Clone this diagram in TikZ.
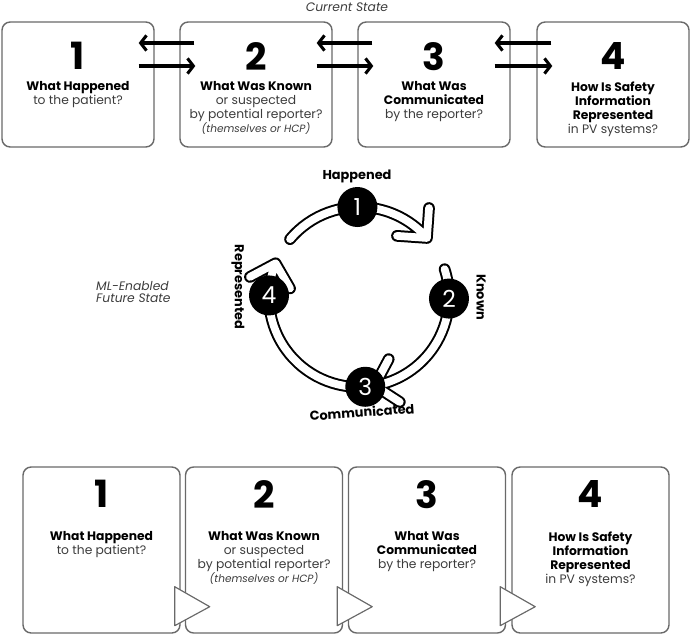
\documentclass[tikz,border=0pt]{standalone}
\usepackage{fontspec}
\setmainfont{Poppins}
\usepackage{tikz}
\usetikzlibrary{arrows.meta,positioning,calc}
\definecolor{boxgray}{RGB}{105,105,105}
\definecolor{txtgray}{RGB}{60,60,60}

\begin{document}
\begin{tikzpicture}[x=0.03cm,y=0.03cm,>={Straight Barb[length=5pt,width=13pt]},
  every node/.style={inner sep=0pt},
  topbox/.style={draw=boxgray,line width=1.2pt,rounded corners=7pt,minimum width=4.56cm,minimum height=3.75cm},
  botbox/.style={draw=boxgray,line width=1.2pt,rounded corners=7pt,minimum width=4.71cm,minimum height=4.98cm},
  bignum/.style={font=\fontsize{32}{32}\selectfont\bfseries,text depth=0pt},
  body/.style={anchor=north,align=center,text=txtgray,font=\fontsize{10.5}{11.9}\selectfont},
  flow/.style={->,line width=2.6pt},
  tri/.style={draw=boxgray,line width=1pt,fill=white,line join=round},
  cnum/.style={circle,fill=black,text=white,minimum size=1.2cm,font=\fontsize{20}{20}\selectfont},
  clab/.style={font=\fontsize{11}{11}\selectfont\bfseries},
  note/.style={text=txtgray,font=\fontsize{10.5}{10.5}\selectfont\itshape}]
\useasboundingbox (0,0) rectangle (690,-641);

% current state
\node[note] (cur) at (347,-7) {Current State};
\node[topbox] (b1) at (78,-84.5) {};
\node[topbox] (b2) at (256,-84.5) {};
\node[topbox] (b3) at (434,-84.5) {};
\node[topbox] (b4) at (613,-84.5) {};
\foreach \i in {1,2,3,4}
  \node[bignum] (b\i n) at ($(b\i.north)+(0,-35)$) {\i};
\node[body] (b1t) at ($(b1.north)+(0,-60)$) {\textbf{\color{black}What Happened}\\to the patient?};
\node[body] (b2t) at ($(b2.north)+(0,-60)$) {\textbf{\color{black}What Was Known}\\or suspected\\by potential reporter?\\{\fontsize{9}{11.9}\selectfont\itshape(themselves or HCP)}};
\node[body] (b3t) at ($(b3.north)+(0,-60)$) {\textbf{\color{black}What Was}\\\textbf{\color{black}Communicated}\\by the reporter?};
\node[body] (b4t) at ($(b4.north)+(0,-60)$) {\textbf{\color{black}How Is Safety}\\\textbf{\color{black}Information}\\\textbf{\color{black}Represented}\\in PV systems?};
\foreach \a/\b in {b1/b2,b2/b3,b3/b4}{
  \draw[flow] ($(\b.west)+(15,41.5)$) -- ($(\a.east)+(-16,41.5)$);
  \draw[flow] ($(\a.east)+(-16,18.5)$) -- ($(\b.west)+(16,18.5)$);
}

% ML-enabled cycle
\node[note,anchor=west,align=left] (fut) at (96,-292) {ML-Enabled\\Future State};
\coordinate (cc) at (359,-297);
\foreach \w/\c in {10pt/black,6.6pt/white}
  \draw[line width=\w,\c,line cap=round,line join=round]
    ($(cc)+(140:90)$) arc[start angle=140,end angle=41,radius=90]
    ($(cc)+(41:90)+(86:30)$) -- ($(cc)+(41:90)$) -- ($(cc)+(41:90)+(176:30)$)
    ($(cc)+(18:90)$) arc[start angle=18,end angle=-80,radius=90]
    ($(cc)+(-80:90)+(62:30)$) -- ($(cc)+(-80:90)$) -- ($(cc)+(-80:90)+(-33:30)$)
    ($(cc)+(-92:90)$) arc[start angle=-92,end angle=-202,radius=90]
    ($(cc)+(158:90)+(208:29)$) -- ($(cc)+(158:90)$) -- ($(cc)+(158:90)+(-60:29)$);
\node[cnum] (c1) at ($(cc)+(91:90)$) {1};
\node[cnum] (c2) at ($(cc)+(-1:90)$) {2};
\node[cnum] (c3) at ($(cc)+(-86:90)$) {3};
\node[cnum] (c4) at ($(cc)+(179:90)$) {4};
\node[clab] (l1) at (357,-176) {Happened};
\node[clab,rotate=-90] (l2) at (481,-297) {Known};
\node[clab,rotate=4] (l3) at (362,-412) {Communicated};
\node[clab,rotate=-90] (l4) at (238,-287) {Represented};

% future state
\node[botbox] (f1) at (101.5,-550) {};
\node[botbox] (f2) at (264,-550) {};
\node[botbox] (f3) at (427,-550) {};
\node[botbox] (f4) at (590.5,-550) {};
\foreach \i in {1,2,3}
  \draw[tri] ($(f\i.south east)+(-6,47)$) -- ($(f\i.south east)+(29,27)$) -- ($(f\i.south east)+(-6,8)$) -- cycle;
\foreach \i in {1,2,3,4}
  \node[bignum] (f\i n) at ($(f\i.north)+(0,-28)$) {\i};
\node[body] (f1t) at ($(f1.north)+(0,-65)$) {\textbf{\color{black}What Happened}\\to the patient?};
\node[body] (f2t) at ($(f2.north)+(0,-65)$) {\textbf{\color{black}What Was Known}\\or suspected\\by potential reporter?\\{\fontsize{9}{11.9}\selectfont\itshape(themselves or HCP)}};
\node[body] (f3t) at ($(f3.north)+(0,-65)$) {\textbf{\color{black}What Was}\\\textbf{\color{black}Communicated}\\by the reporter?};
\node[body] (f4t) at ($(f4.north)+(0,-65)$) {\textbf{\color{black}How Is Safety}\\\textbf{\color{black}Information}\\\textbf{\color{black}Represented}\\in PV systems?};
\end{tikzpicture}
\end{document}
